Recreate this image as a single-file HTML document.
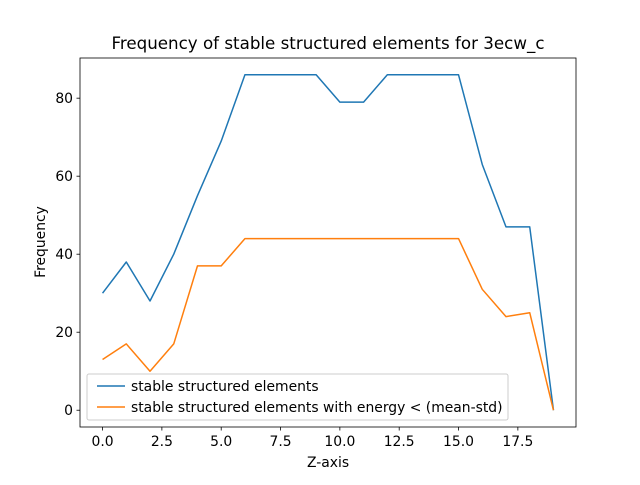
<!DOCTYPE html>
<html><head><meta charset="utf-8"><style>
body{margin:0;background:#fff;}
text{font-family:"DejaVu Sans","Liberation Sans",sans-serif;fill:#000;}
</style></head><body>
<svg id="chart" width="640" height="480" xmlns="http://www.w3.org/2000/svg">
<rect width="640" height="480" fill="#fff"/>
<text x="328" y="49" font-size="16.7" text-anchor="middle">Frequency of stable structured elements for 3ecw_c</text>
<g id="ticks"></g>
<g id="lines"></g>
<rect x="80" y="58" width="496" height="369" fill="none" stroke="#000" stroke-width="0.8"/>
<text x="328" y="467" font-size="13.9" text-anchor="middle">Z-axis</text>
<text x="0" y="0" font-size="13.9" text-anchor="middle" transform="translate(45,242) rotate(-90)">Frequency</text>
<g>
<rect x="87" y="374" width="421" height="46" rx="2" fill="#fff" fill-opacity="0.8" stroke="#ccc" stroke-width="1"/>
<line x1="97" y1="386" x2="125" y2="386" stroke="#1f77b4" stroke-width="1.5"/>
<text x="131" y="391" font-size="13.9">stable structured elements</text>
<line x1="97" y1="407" x2="125" y2="407" stroke="#ff7f0e" stroke-width="1.5"/>
<text x="131" y="412" font-size="13.9">stable structured elements with energy &lt; (mean-std)</text>
</g>
</svg>
<script>
const xValues=[0,1,2,3,4,5,6,7,8,9,10,11,12,13,14,15,16,17,18,19];
const stableSeries=[30,38,28,40,55,69,86,86,86,86,79,79,86,86,86,86,63,47,47,0];
const lowEnergySeries=[13,17,10,17,37,37,44,44,44,44,44,44,44,44,44,44,31,24,25,0];
const xTicks=[0,2.5,5,7.5,10,12.5,15,17.5];
const xTickLabels=["0.0","2.5","5.0","7.5","10.0","12.5","15.0","17.5"];
const yTicks=[0,20,40,60,80];
const yTickLabels=["0","20","40","60","80"];
const NS="http://www.w3.org/2000/svg";
const L=80,R=576,T=58,B=427;
const xmin=-0.95,xmax=19.95,ymin=-4.3,ymax=90.3;
const sx=v=>L+(v-xmin)/(xmax-xmin)*(R-L);
const sy=v=>B-(v-ymin)/(ymax-ymin)*(B-T);
const tg=document.getElementById('ticks');
function mk(tag,attrs,parent){const e=document.createElementNS(NS,tag);for(const k in attrs)e.setAttribute(k,attrs[k]);parent.appendChild(e);return e;}
xTicks.forEach((v,i)=>{
 const l=mk('line',{x1:sx(v),x2:sx(v),y1:B,y2:B+3.5,stroke:'#000','stroke-width':0.8},tg);
 
 
 const t=mk('text',{x:sx(v),y:B+19,'font-size':13.9,'text-anchor':'middle'},tg);
 t.textContent=xTickLabels[i];
 
 
});
yTicks.forEach((v,i)=>{
 const l=mk('line',{x1:L-3.5,x2:L,y1:sy(v),y2:sy(v),stroke:'#000','stroke-width':0.8},tg);
 
 
 const t=mk('text',{x:L-7,y:sy(v)+5,'font-size':13.9,'text-anchor':'end'},tg);
 t.textContent=yTickLabels[i];
 
 
});
const lg=document.getElementById('lines');
function series(vals,color,name){
 const p=mk('polyline',{points:vals.map((v,i)=>sx(xValues[i])+','+sy(v)).join(' '),fill:'none',stroke:color,'stroke-width':1.5,'stroke-linejoin':'round'},lg);
 
 
}
series(stableSeries,'#1f77b4','stable-elements-line');
series(lowEnergySeries,'#ff7f0e','low-energy-elements-line');
</script>
</body></html>
